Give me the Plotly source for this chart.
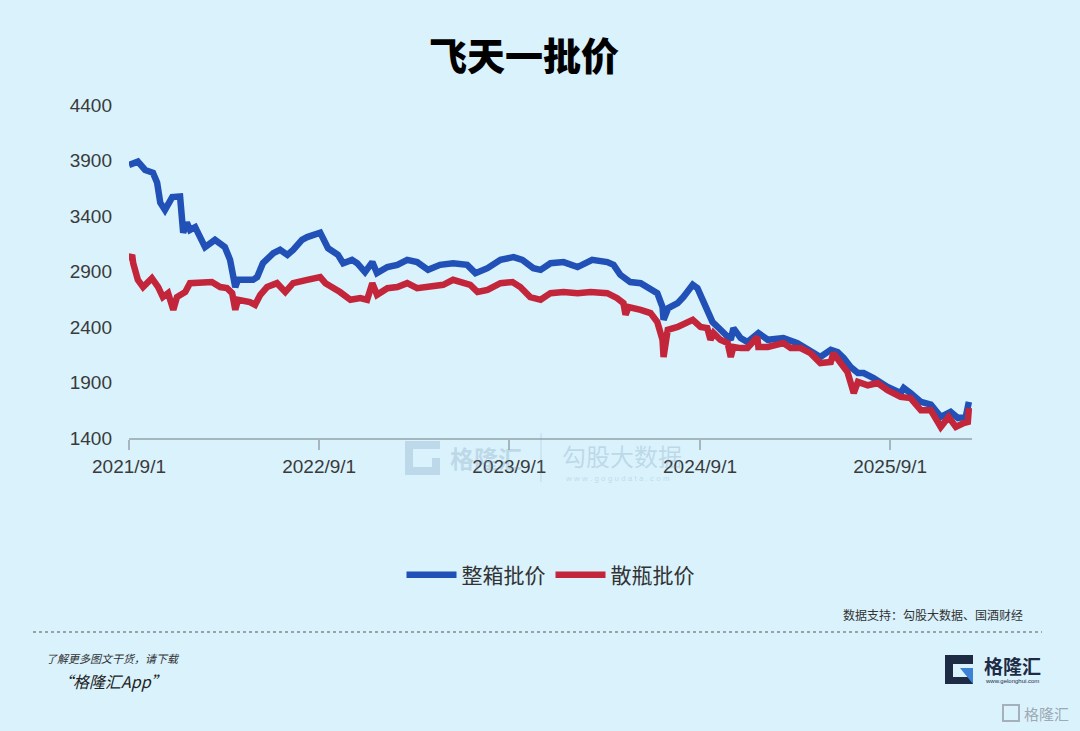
import plotly.graph_objects as go

# ---------------- data ----------------
box_dates = ["2021-09-01","2021-09-18","2021-10-02","2021-10-17","2021-10-25","2021-10-31","2021-11-09","2021-11-19","2021-11-23","2021-12-08",
             "2021-12-12","2021-12-14","2021-12-21","2021-12-27","2022-01-06","2022-01-15","2022-01-25","2022-02-13","2022-02-23","2022-03-04",
             "2022-03-14","2022-03-20","2022-03-24","2022-03-29","2022-04-27","2022-05-05","2022-05-16","2022-06-05","2022-06-18","2022-07-02",
             "2022-07-13","2022-07-30","2022-08-09","2022-09-03","2022-09-09","2022-09-18","2022-10-07","2022-10-17","2022-11-03","2022-11-13",
             "2022-11-28","2022-12-12","2022-12-21","2023-01-10","2023-01-29","2023-02-17","2023-03-08","2023-03-29","2023-04-21","2023-05-16",
             "2023-06-12","2023-06-28","2023-07-21","2023-08-15","2023-09-09","2023-09-26","2023-10-17","2023-10-31","2023-11-19","2023-12-14",
             "2024-01-10","2024-02-07","2024-03-07","2024-03-19","2024-04-01","2024-04-20","2024-05-10","2024-05-25","2024-06-11","2024-06-21",
             "2024-06-23","2024-07-02","2024-07-20","2024-07-31","2024-08-18","2024-08-27","2024-09-06","2024-09-15","2024-09-25","2024-10-05",
             "2024-10-16","2024-10-30","2024-11-04","2024-11-18","2024-12-01","2024-12-20","2024-12-22","2025-01-09","2025-02-08","2025-03-07",
             "2025-03-26","2025-04-20","2025-05-10","2025-05-23","2025-06-04","2025-06-17","2025-07-01","2025-07-12","2025-07-31","2025-08-27",
             "2025-09-21","2025-09-27","2025-10-10","2025-10-30","2025-11-18","2025-12-07","2025-12-26","2026-01-09","2026-01-24","2026-01-30"]
box_price = [3860,3890,3815,3790,3700,3520,3455,3520,3570,3575,
             3390,3250,3340,3275,3300,3210,3120,3185,3155,3120,
             3005,2885,2760,2825,2825,2850,2975,3065,3095,3050,
             3095,3185,3210,3250,3185,3110,3050,2975,3005,2975,
             2895,2985,2885,2940,2960,3005,2985,2915,2960,2975,
             2960,2885,2930,3005,3030,3005,2930,2915,2975,2985,
             2940,3005,2985,2960,2870,2805,2795,2750,2705,2580,
             2465,2570,2615,2670,2780,2750,2645,2555,2445,2400,
             2355,2285,2390,2300,2265,2330,2345,2285,2300,2255,
             2195,2130,2195,2175,2120,2040,1985,1985,1940,1860,
             1805,1850,1805,1725,1700,1590,1635,1580,1590,1725]

bottle_dates = ["2021-09-01","2021-09-07","2021-09-09","2021-09-18","2021-09-28","2021-10-15","2021-10-27","2021-11-05","2021-11-15","2021-11-25",
                "2021-12-02","2021-12-18","2021-12-27","2022-01-21","2022-02-07","2022-02-23","2022-03-08","2022-03-18","2022-03-24","2022-03-29",
                "2022-04-21","2022-05-01","2022-05-11","2022-05-24","2022-06-12","2022-06-28","2022-07-13","2022-08-09","2022-09-03","2022-09-13",
                "2022-09-26","2022-10-11","2022-10-31","2022-11-19","2022-12-02","2022-12-12","2022-12-21","2023-01-10","2023-01-29","2023-02-17",
                "2023-03-08","2023-04-02","2023-04-27","2023-05-16","2023-06-05","2023-06-18","2023-07-02","2023-07-21","2023-08-15","2023-09-07",
                "2023-09-22","2023-10-11","2023-10-31","2023-11-19","2023-12-14","2024-01-10","2024-02-04","2024-03-07","2024-03-26","2024-04-07",
                "2024-04-11","2024-04-17","2024-05-10","2024-05-29","2024-06-11","2024-06-21","2024-06-23","2024-07-01","2024-07-20","2024-07-31",
                "2024-08-18","2024-09-02","2024-09-15","2024-09-21","2024-09-27","2024-10-10","2024-10-24","2024-10-30","2024-11-04","2024-11-18",
                "2024-12-01","2024-12-20","2024-12-22","2025-01-09","2025-02-08","2025-02-22","2025-03-13","2025-04-01","2025-04-20","2025-05-10",
                "2025-05-15","2025-05-29","2025-06-11","2025-06-23","2025-07-01","2025-07-20","2025-08-08","2025-08-27","2025-09-21","2025-10-10",
                "2025-10-30","2025-11-18","2025-12-07","2025-12-22","2026-01-05","2026-01-20","2026-01-28","2026-01-30"]
bottle_price = [3000,3050,2975,2825,2760,2840,2760,2670,2705,2555,
                2670,2715,2795,2795,2805,2760,2750,2705,2555,2645,
                2625,2600,2690,2760,2795,2715,2795,2825,2850,2795,
                2760,2715,2645,2660,2645,2795,2690,2750,2760,2795,
                2750,2760,2780,2825,2805,2780,2715,2735,2795,2805,
                2760,2670,2645,2705,2715,2705,2715,2705,2660,2615,
                2510,2580,2555,2525,2445,2285,2130,2375,2400,2420,
                2465,2400,2390,2285,2345,2285,2255,2130,2220,2210,
                2210,2310,2220,2220,2255,2210,2210,2165,2075,2085,
                2165,2075,1995,1805,1905,1875,1895,1830,1770,1760,
                1650,1650,1500,1590,1500,1535,1545,1670]

series_names = ["整箱批价", "散瓶批价"]
x_tick_vals = ["2021-09-01", "2022-09-01", "2023-09-01", "2024-09-01", "2025-09-01"]
x_tick_text = ["2021/9/1", "2022/9/1", "2023/9/1", "2024/9/1", "2025/9/1"]
y_tick_vals = [1400, 1900, 2400, 2900, 3400, 3900, 4400]

BG = "#d9f2fc"
BLUE = "#2150b6"
RED = "#c3263a"
CJK = "Noto Sans CJK SC"
NUM = "Liberation Sans"

fig = go.Figure()
fig.add_trace(go.Scatter(x=box_dates, y=box_price, mode="lines", name=series_names[0],
                         line=dict(color=BLUE, width=6.5)))
fig.add_trace(go.Scatter(x=bottle_dates, y=bottle_price, mode="lines", name=series_names[1],
                         line=dict(color=RED, width=6.5)))

fig.update_layout(
    width=1080, height=731,
    paper_bgcolor=BG, plot_bgcolor=BG,
    margin=dict(l=129, r=108, t=105, b=293),
    title=dict(text="飞天一批价", x=524/1080, xref="container", xanchor="center",
               y=1-57/731, yref="container", yanchor="middle",
               font=dict(family=CJK, size=38, color="#000000", weight=900)),
    showlegend=True,
    legend=dict(orientation="h", x=0.5, xanchor="center", y=(438-575)/333, yanchor="middle",
                font=dict(family=CJK, size=21, color="#333333"), bgcolor="rgba(0,0,0,0)",
                itemwidth=50, traceorder="normal"),
    xaxis=dict(type="date", range=["2021-09-01", "2026-02-05"],
               tickvals=x_tick_vals, ticktext=x_tick_text,
               showgrid=False, zeroline=False,
               showline=True, linecolor="#a6b6bf", linewidth=1.5,
               ticks="outside", ticklen=10, tickcolor="#a6b6bf", tickwidth=1.5,
               tickfont=dict(family=NUM, size=19, color="#3a3a3a")),
    yaxis=dict(range=[1400, 4400], tickvals=y_tick_vals,
               showgrid=False, zeroline=False, showline=False, ticks="",
               ticklabelstandoff=16,
               tickfont=dict(family=NUM, size=19, color="#3a3a3a")),
)

# watermark (faint)
wm = "rgba(120,150,180,0.28)"
fig.add_shape(type="path", xref="paper", yref="paper",
              path=(f"M {(405-129)/843},{(438-441)/333} L {(440-129)/843},{(438-441)/333} "
                    f"L {(440-129)/843},{(438-449)/333} L {(413-129)/843},{(438-449)/333} "
                    f"L {(413-129)/843},{(438-467)/333} L {(432-129)/843},{(438-467)/333} "
                    f"L {(432-129)/843},{(438-458)/333} L {(440-129)/843},{(438-458)/333} "
                    f"L {(440-129)/843},{(438-475)/333} L {(405-129)/843},{(438-475)/333} Z"),
              fillcolor=wm, line=dict(width=0), layer="above")
fig.add_annotation(text="<b>格隆汇</b>", xref="paper", yref="paper", x=(448-129)/843, y=(438-457)/333,
                   xanchor="left", yanchor="middle", showarrow=False, font=dict(family=CJK, size=24, color=wm))
fig.add_shape(type="line", xref="paper", yref="paper", x0=(541-129)/843, x1=(541-129)/843,
              y0=(438-482)/333, y1=(438-433)/333, line=dict(color=wm, width=1))
fig.add_annotation(text="勾股大数据", xref="paper", yref="paper", x=(560-129)/843, y=(438-455)/333,
                   xanchor="left", yanchor="middle", showarrow=False, font=dict(family=CJK, size=24, color=wm))
fig.add_annotation(text="w w w . g o g u d a t a . c o m", xref="paper", yref="paper", x=(563-129)/843, y=(438-478)/333,
                   xanchor="left", yanchor="middle", showarrow=False, font=dict(family=NUM, size=8, color=wm))

# source note
fig.add_annotation(text="数据支持：勾股大数据、国酒财经", xref="paper", yref="paper",
                   x=(1025-129)/843, y=(438-614)/333, xanchor="right", yanchor="middle",
                   showarrow=False, font=dict(family=CJK, size=12, color="#333333"))

# dotted separator
fig.add_shape(type="line", xref="paper", yref="paper", x0=(33-129)/843, x1=(1042-129)/843,
              y0=(438-632)/333, y1=(438-632)/333, line=dict(color="#555555", width=1, dash="dot"))

# footer texts
fig.add_annotation(text="<i>了解更多图文干货，请下载</i>", xref="paper", yref="paper",
                   x=(44-129)/843, y=(438-658)/333, xanchor="left", yanchor="middle",
                   showarrow=False, font=dict(family=CJK, size=11, color="#333333"))
fig.add_annotation(text="<i>“格隆汇App”</i>", xref="paper", yref="paper",
                   x=(55-129)/843, y=(438-681)/333, xanchor="left", yanchor="middle",
                   showarrow=False, font=dict(family=CJK, size=16, color="#222222"))

# logo
fig.add_shape(type="rect", xref="paper", yref="paper",
              x0=(945-129)/843, x1=(973-129)/843, y0=(438-684)/333, y1=(438-655)/333,
              fillcolor="#1d2b45", line=dict(width=0), layer="above")
fig.add_shape(type="rect", xref="paper", yref="paper",
              x0=(953-129)/843, x1=(973-129)/843, y0=(438-677)/333, y1=(438-664)/333,
              fillcolor=BG, line=dict(width=0), layer="above")
fig.add_shape(type="path", xref="paper", yref="paper",
              path=f"M {(960-129)/843},{(438-668)/333} L {(973-129)/843},{(438-668)/333} L {(973-129)/843},{(438-684)/333} Z",
              fillcolor="#3b82d6", line=dict(width=0), layer="above")
fig.add_annotation(text="<b>格隆汇</b>", xref="paper", yref="paper", x=(982-129)/843, y=(438-665)/333,
                   xanchor="left", yanchor="middle", showarrow=False, font=dict(family=CJK, size=19, color="#1d2b45"))
fig.add_annotation(text="www.gelonghui.com", xref="paper", yref="paper", x=(983-129)/843, y=(438-681)/333,
                   xanchor="left", yanchor="middle", showarrow=False, font=dict(family=NUM, size=6, color="#1d2b45"))

# bottom-right faint watermark
fig.add_shape(type="rect", xref="paper", yref="paper",
              x0=(1003-129)/843, x1=(1019-129)/843, y0=(438-721)/333, y1=(438-705)/333,
              fillcolor="rgba(0,0,0,0)", line=dict(color="rgba(150,160,170,0.8)", width=2), layer="above")
fig.add_annotation(text="格隆汇", xref="paper", yref="paper", x=(1022-129)/843, y=(438-713)/333,
                   xanchor="left", yanchor="middle", showarrow=False,
                   font=dict(family=CJK, size=15, color="rgba(150,160,170,0.9)"))

fig.write_html("out.html", config={"displayModeBar": False},
               post_script=["document.body.style.margin='0px';"])
